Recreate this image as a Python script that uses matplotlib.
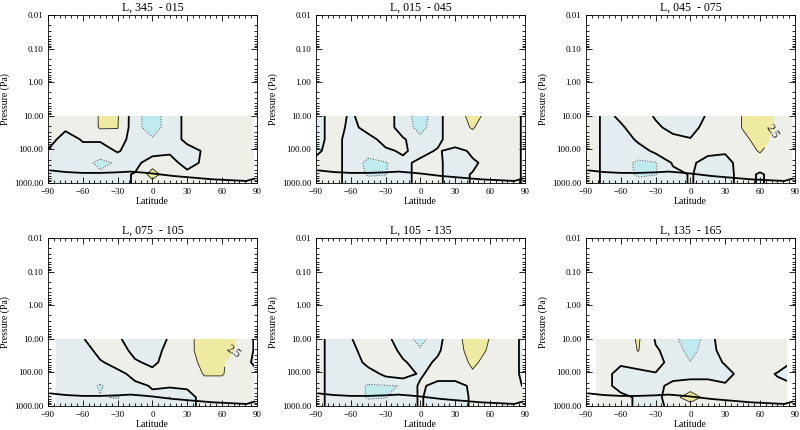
import numpy as np
import matplotlib
matplotlib.use("Agg")
import matplotlib.pyplot as plt
from matplotlib.patches import Rectangle
from matplotlib.ticker import FixedLocator, LogLocator, MultipleLocator, NullFormatter

plt.rcParams["font.family"] = ["Liberation Serif", "DejaVu Serif"]

# grid the fields are read on
LATS = [-90, -75, -60, -45, -30, -15, 0, 15, 30, 45, 60, 75, 90]
PLEVS = [10, 22, 50, 110, 250, 550, 1000]

TITLES = ["L, 345  - 015", "L, 015  - 045", "L, 045  - 075",
          "L, 075  - 105", "L, 105  - 135", "L, 135  - 165"]

# latitude extent of the shaded data in each panel
LAT_LO = [-90, -90, -90, -83, -89, -81]
LAT_HI = [88, 88, 88, 88, 88, 83]

# where the "2.5" contour label sits (None = no label)
LABEL_AT = [None, None, (72, 40), (70, 30), None, None]

# surface pressure line
SURF_LAT = [-88, -75, -60, -45, -30, -19, -8, 0, 18, 35, 52, 70, 81, 88]
SURF_P = [420, 470, 500, 500, 480, 457, 490, 520, 617, 692, 776, 832, 870, 740]

# field values, rows = PLEVS (top -> bottom), cols = LATS
Z_345_015 = [
    [1, 1, 1, 2.7, 2.7, -1.5, -4, -1, 0.5, 1, 1, 1, 1],
    [1, 0.3, 1, 2.7, 2.6, -1.5, -4, -1, 0.5, 1, 1, 1, 1],
    [1, -1, 0.2, 0.2, 1, -1, -2, -1, 0.5, 1, 1, 1, 1],
    [-0.2, -1, -1, -1, 0.2, -1, -1, -0.3, -1, 0.3, 1, 1, 1],
    [-1, -1, -1, -3.5, -2, -1, 1.8, 1, -1, 0.5, 1, 1, 1],
    [-1, -1, -1, -1.5, -1, 0.3, 3.5, 1, 1, 1, 1, 1, 1],
    [-1, -1, -1, -1, -1, 0.3, 1.5, 1, 1, 1, 1, 1, 1],
]
Z_015_045 = [
    [-1, 1, -0.3, 1, 1, -1, -4, -0.6, 1.5, 3.2, 1.8, 1, -0.3],
    [-1, 1, -0.5, 0.6, 1, -1, -3.5, -0.6, 1.5, 2.7, 1, 1, -0.3],
    [-1, 1, -1, -0.8, 0.8, 0.3, -1.5, -0.6, 1.5, 1, 1, 1, -0.3],
    [-0.5, 1, -1, -1.8, -0.5, 0.4, -1, 0.3, -1, 0.5, 1, 1, -0.3],
    [1, 1, -1, -3.2, -2.7, -1, 1, 0.4, -1, -0.5, 1, 1, -0.3],
    [1, 1, -1, -2.8, -2.6, -1, 1, 0.4, -1, 0.2, 1, 1, -0.3],
    [1, 1, -1, -1, -1, -1, 1, 0.4, -1, 0.2, 1, 1, -0.3],
]
Z_045_075 = [
    [2, -0.5, 0.3, 1, -0.2, -1, -1, 0.2, 1, 2.6, 4, 2, 1],
    [2, -0.5, -0.3, 1, 0.5, -0.8, -1, 1, 1, 2.6, 4, 2, 1],
    [2, -0.5, -1, 0.3, 1, 1, 0.2, 1, 1, 1.8, 3.5, 1.5, 1],
    [2, -0.5, -1, -1, 0.5, 1, 1, 0.5, 0.2, 1.5, 2.7, 1, 1],
    [2, -0.5, -1, -3.2, -2.7, 0.3, 0.5, -1, -0.8, 1, 1, 1, 1],
    [2, -0.5, -1, -3, -2.6, -1, 0.2, -1, -1, 1, -0.3, 1, 1],
    [2, -0.5, -1, -1, -1, -1, 0.2, -1, -1, 1, -0.3, 1, 1],
]
Z_075_105 = [
    [-1, -1, -0.1, 1, 0.3, -1, -1, 0.2, 1.5, 4, 4, 2, -0.5],
    [-1, -1, -1, 0.7, 0.8, -0.5, -1, 0.8, 1.5, 4, 3.5, 2, -0.5],
    [-1, -1, -1, -0.3, 1, 0.3, -0.5, 1, 1, 3.5, 2.8, 1, -0.5],
    [-1, -1, -1, -1, -1, 1, 1, 1, 1, 2.7, 2.7, 1, 0.5],
    [-1, -1, -1, -2.8, -1.2, -1, 0.3, 0.3, 0.3, 1, 1, 1, 1],
    [-1, -1, -1, -2.3, -2.7, -1, -1, -2.6, -1, 1, 1, 1, 1],
    [-1, -1, -1, -1, -1, -1, -1, -1, -1, 1, 1, 1, 1],
]
Z_105_135 = [
    [1, -1, -0.1, 1, 0.5, -1, -3.5, -0.6, 1.5, 4, 2.4, 1, -0.5],
    [1, -1, -0.6, 1, 1, -0.5, -2, -0.3, 1.5, 3.5, 2.2, 1, -0.5],
    [1, -1, -1, 0.5, 1, 0.3, -1, 0.5, 1, 3, 1.5, 1, -0.5],
    [1, -1, -1, -1, 0.5, 1, -0.3, 1, 1, 2, 1, 1, -0.5],
    [1, -1, -1, -2.8, -2.7, -2.4, 0.5, -1, -1, 0.5, 1, 1, -0.2],
    [1, -1, -1, -2.8, -2.6, -1, 0.2, -1, -1, 0.3, 1, 1, 1],
    [1, -1, -1, -1, -1, -1, 0.2, -1, -1, 0.3, 1, 1, 1],
]
Z_135_165 = [
    [1, 1, 1, 2.8, -0.2, -1.8, -4, -1.5, 2.2, 1, 1, 1, 1],
    [1, 1, 1, 2.6, 0.3, -1, -3.5, -1, 1, 1, 1, 1, 1],
    [1, 1, 0.3, 1, 1, -1, -2.4, -1, 0.2, 1, 1, 1, -0.2],
    [1, 1, -1, -1, -0.2, -1, -1, -1, -1, 1, 1, -0.2, -1],
    [1, 1, -1, -1, -1, 1, 1.8, 1.8, 0.5, 1, 1, 1, 0.2],
    [1, 1, 1, -0.5, -1, 1.8, 3.5, 1.8, 1, 1, 1, 1, 1],
    [1, 1, 1, -0.5, -1, 1, 1.5, 1, 1, 1, 1, 1, 1],
]
FIELDS = [Z_345_015, Z_015_045, Z_045_075, Z_075_105, Z_105_135, Z_135_165]

FILL_LEVELS = [-50, -2.5, 0, 2.5, 50]
FILL_COLORS = ["#bfeaee", "#e3edf0", "#efefe9", "#eeeaa2"]

# axes boxes in figure fraction
COL_X = [0.060, 0.395, 0.7325]
ROW_Y = [0.5744, 0.0558]
AX_W, AX_H = 0.261, 0.390


def draw_panel(ax, z, title, lo, hi, label_at):
    z = np.array(z, dtype=float)
    clip = Rectangle((lo, 10), hi - lo, 990, transform=ax.transData,
                     facecolor="none", edgecolor="none")
    ax.add_patch(clip)

    cf = ax.contourf(LATS, PLEVS, z, levels=FILL_LEVELS, colors=FILL_COLORS)
    c0 = ax.contour(LATS, PLEVS, z, levels=[0], colors="k", linewidths=1.3)
    cp = ax.contour(LATS, PLEVS, z, levels=[2.5], colors="#222222",
                    linewidths=0.6)
    cn = ax.contour(LATS, PLEVS, z, levels=[-2.5], colors="#444444",
                    linewidths=0.7, linestyles=":")
    for cs in (cf, c0, cp, cn):
        cs.set_clip_path(clip)
    if label_at is not None:
        ax.clabel(cp, fmt="%.1f", fontsize=8.5, inline=True, manual=[label_at])

    ax.plot(SURF_LAT, SURF_P, color="k", lw=1.3, zorder=4)

    ax.set_yscale("log")
    ax.set_ylim(1000, 0.01)
    ax.set_xlim(-90, 90)
    ax.yaxis.set_major_locator(FixedLocator([0.01, 0.1, 1, 10, 100, 1000]))
    ax.set_yticklabels(["0.01", "0.10", "1.00", "10.00", "100.00", "1000.00"])
    ax.yaxis.set_minor_locator(LogLocator(base=10, subs=np.arange(2, 10)))
    ax.yaxis.set_minor_formatter(NullFormatter())
    ax.set_xticks([-90, -60, -30, 0, 30, 60, 90])
    ax.xaxis.set_minor_locator(MultipleLocator(5))
    ax.tick_params(which="both", direction="in", top=True, right=True,
                   labelsize=6.5, width=0.6)
    ax.tick_params(which="major", length=4)
    ax.tick_params(which="minor", length=2)
    for s in ax.spines.values():
        s.set_linewidth(0.6)

    ax.set_title(title, fontsize=8.5, pad=3)
    ax.set_xlabel("Latitude", fontsize=7, labelpad=1)
    ax.set_ylabel("Pressure (Pa)", fontsize=7, labelpad=3)


fig = plt.figure(figsize=(8, 4.3), dpi=100)
for i in range(6):
    r, c = divmod(i, 3)
    ax = fig.add_axes([COL_X[c], ROW_Y[r], AX_W, AX_H])
    draw_panel(ax, FIELDS[i], TITLES[i], LAT_LO[i], LAT_HI[i], LABEL_AT[i])

fig.savefig("out.png", dpi=100)
